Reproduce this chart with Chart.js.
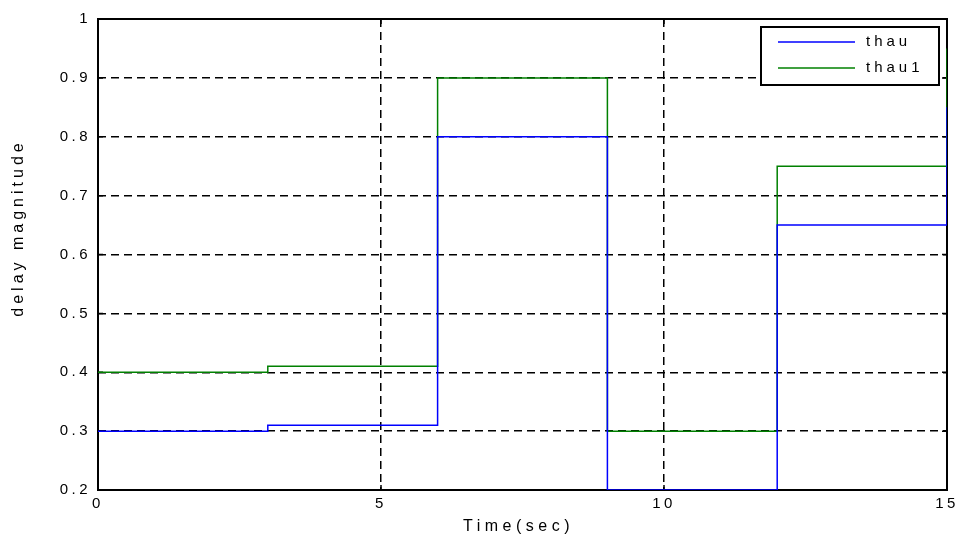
<!DOCTYPE html>
<html>
<head>
<meta charset="utf-8">
<script src="https://cdn.jsdelivr.net/npm/chart.js@4.4.0/dist/chart.umd.min.js"></script>
<style>
  html, body { margin: 0; padding: 0; background: #fff; }
  #wrap { width: 960px; height: 537px; }
</style>
</head>
<body>
<div id="wrap"><canvas id="chart" width="960" height="537"></canvas></div>
<script>
// step times (sec) and delay values
const tempos = [0, 3, 6, 9, 12, 15];
const thau = [0.30, 0.31, 0.80, 0.20, 0.65, 0.85];
const thau1 = [0.40, 0.41, 0.90, 0.30, 0.75, 0.95];
const xTicks = [0, 5, 10, 15];
const yTicks = [0.2, 0.3, 0.4, 0.5, 0.6, 0.7, 0.8, 0.9, 1];
const tituloX = 'Time(sec)';
const tituloY = 'delay magnitude';

const FONTE = "'Liberation Sans', Arial, sans-serif";

function pontos(valores) {
  return tempos.map((t, i) => ({ x: t, y: valores[i] }));
}

// espaçamento de letras estilo MATLAB
const espacamento = {
  id: 'espacamento',
  beforeLayout(chart) { chart.ctx.letterSpacing = '3.5px'; },
  beforeDraw(chart) { chart.ctx.letterSpacing = '3.5px'; }
};

// moldura completa + pequenos ticks nos 4 lados (antes das linhas)
const moldura = {
  id: 'moldura',
  beforeDatasetsDraw(chart) {
    const { ctx, chartArea: a, scales } = chart;
    ctx.save();
    ctx.strokeStyle = '#000';
    ctx.lineWidth = 2;
    ctx.setLineDash([]);
    ctx.strokeRect(a.left, a.top, a.right - a.left, a.bottom - a.top);
    ctx.lineWidth = 1.5;
    xTicks.forEach(v => {
      const px = scales.x.getPixelForValue(v);
      ctx.beginPath();
      ctx.moveTo(px, a.bottom); ctx.lineTo(px, a.bottom - 5);
      ctx.moveTo(px, a.top); ctx.lineTo(px, a.top + 5);
      ctx.stroke();
    });
    yTicks.forEach(v => {
      const py = scales.y.getPixelForValue(v);
      ctx.beginPath();
      ctx.moveTo(a.left, py); ctx.lineTo(a.left + 5, py);
      ctx.moveTo(a.right, py); ctx.lineTo(a.right - 5, py);
      ctx.stroke();
    });
    ctx.restore();
  }
};

// títulos dos eixos com espaçamento maior
const titulos = {
  id: 'titulos',
  afterDraw(chart) {
    const { ctx, chartArea: a } = chart;
    ctx.save();
    ctx.font = '16px ' + FONTE;
    ctx.fillStyle = '#000';
    ctx.textAlign = 'center';
    ctx.textBaseline = 'middle';
    ctx.letterSpacing = '4.5px';
    ctx.fillText(tituloX, (a.left + a.right) / 2 - 4, 527);
    ctx.letterSpacing = '4px';
    ctx.translate(19, 228);
    ctx.rotate(-Math.PI / 2);
    ctx.fillText(tituloY, 0, 0);
    ctx.restore();
  }
};

// legenda dentro da área do gráfico, canto superior direito
const legendaInterna = {
  id: 'legendaInterna',
  afterDraw(chart) {
    const { ctx, chartArea: a } = chart;
    const w = 178, h = 58;
    const x0 = a.right - 8 - w, y0 = a.top + 8;
    ctx.save();
    ctx.letterSpacing = '4px';
    ctx.fillStyle = '#fff';
    ctx.fillRect(x0, y0, w, h);
    ctx.strokeStyle = '#000';
    ctx.lineWidth = 2;
    ctx.setLineDash([]);
    ctx.strokeRect(x0, y0, w, h);
    ctx.font = '15px ' + FONTE;
    ctx.textBaseline = 'middle';
    chart.data.datasets.forEach((ds, i) => {
      const y = y0 + 15 + i * 26;
      ctx.strokeStyle = ds.borderColor;
      ctx.lineWidth = 1.5;
      ctx.beginPath();
      ctx.moveTo(x0 + 17, y);
      ctx.lineTo(x0 + 94, y);
      ctx.stroke();
      ctx.fillStyle = '#000';
      ctx.fillText(ds.label, x0 + 105, y);
    });
    ctx.restore();
  }
};

new Chart(document.getElementById('chart').getContext('2d'), {
  type: 'line',
  data: {
    datasets: [
      { label: 'thau', data: pontos(thau), borderColor: '#0000ff', borderWidth: 1.5, stepped: true, pointRadius: 0, fill: false },
      { label: 'thau1', data: pontos(thau1), borderColor: '#008000', borderWidth: 1.5, stepped: true, pointRadius: 0, fill: false }
    ]
  },
  options: {
    responsive: false,
    animation: false,
    layout: { padding: { top: 19, right: 13, left: 0, bottom: 0 } },
    plugins: { legend: { display: false }, tooltip: { enabled: false } },
    scales: {
      x: {
        type: 'linear',
        min: 0, max: 15,
        afterBuildTicks(scale) { scale.ticks = xTicks.map(v => ({ value: v })); },
        afterFit(scale) { scale.height = 47; scale.paddingLeft = 0; scale.paddingRight = 0; },
        ticks: { color: '#000', font: { family: FONTE, size: 15 }, padding: 5, maxRotation: 0 },
        grid: { color: '#000', lineWidth: 1.5, drawTicks: false },
        border: { display: false, dash: [8, 5] }
      },
      y: {
        min: 0.2, max: 1,
        afterBuildTicks(scale) { scale.ticks = yTicks.map(v => ({ value: v })); },
        afterFit(scale) { scale.width = 98; scale.paddingTop = 0; scale.paddingBottom = 0; },
        ticks: {
          color: '#000', font: { family: FONTE, size: 15 }, padding: 7,
          callback: v => (v === 1 ? '1' : v.toFixed(1))
        },
        grid: { color: '#000', lineWidth: 1.5, drawTicks: false },
        border: { display: false, dash: [8, 5] }
      }
    }
  },
  plugins: [espacamento, moldura, titulos, legendaInterna]
});
</script>
</body>
</html>
